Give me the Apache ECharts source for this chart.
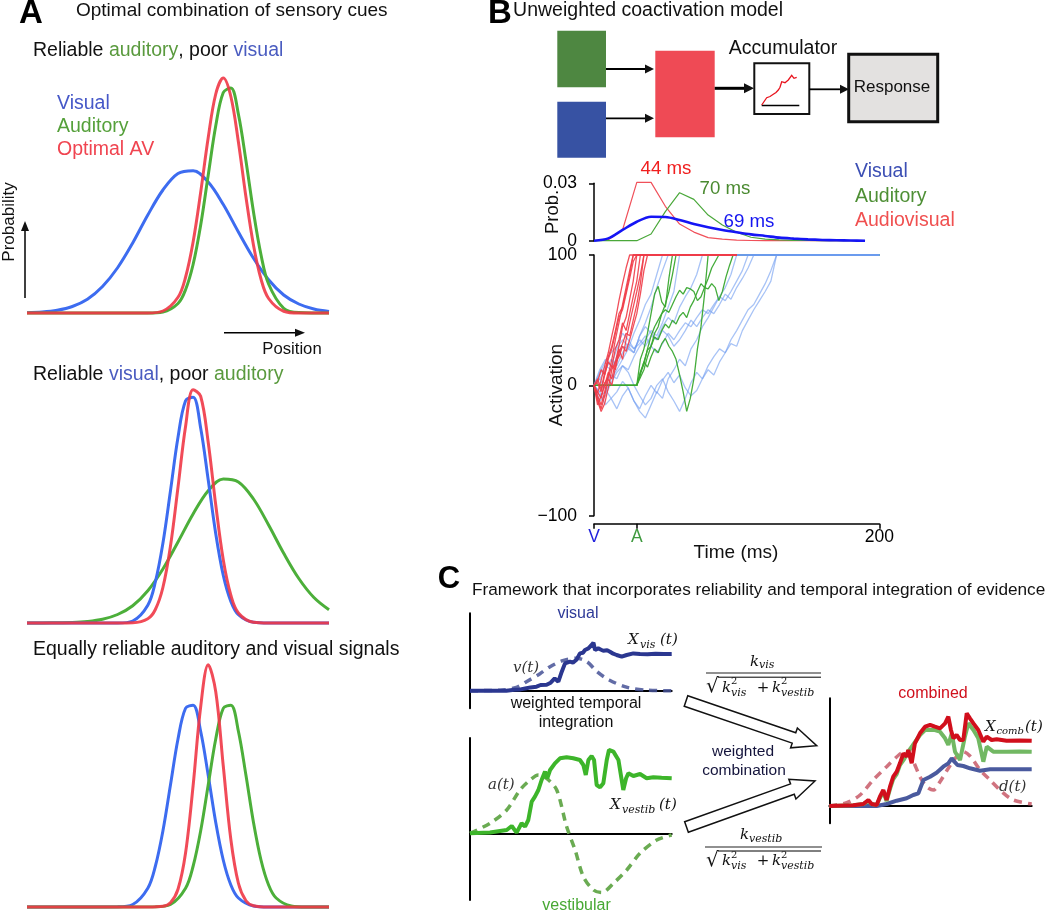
<!DOCTYPE html>
<html><head><meta charset="utf-8">
<script src="https://cdn.jsdelivr.net/npm/echarts@6/dist/echarts.min.js"></script>
<style>html,body{margin:0;padding:0;background:#fff}#c{width:1050px;height:912px}</style>
</head><body><div id="c"></div>
<script>
// ================= DATA =================
// ---- Panel A : probability vs position (0-100) ----
const posWide = [0,5,10,15,20,25,30,35,40,45,50,55,60,65,70,75,80,85,90,95,100];
const a1NarrowX = [0,40,45,50,52.5,55,57.5,60,62.5,65,67.5,70,72.5,75,77.5,80,85,90,100];
const a1Visual = [0.0015,0.004,0.011,0.026,0.055,0.106,0.181,0.280,0.392,0.492,0.558,0.569,0.524,0.434,0.324,0.219,0.133,0.072,0.036,0.016,0.006];
const a1Auditory = [0,0,0.004,0.038,0.093,0.194,0.351,0.551,0.749,0.882,0.900,0.795,0.609,0.404,0.232,0.116,0.019,0.002,0];
const a1Optimal = [0,0,0.008,0.063,0.143,0.284,0.482,0.701,0.876,0.940,0.866,0.684,0.464,0.271,0.135,0.058,0.007,0,0];

const a2NarrowX = [0,30,35,40,42.5,45,47.5,50,52.5,55,57.5,60,62.5,65,67.5,70,75,80,100];
const a2Visual = [0,0,0.008,0.071,0.164,0.319,0.528,0.743,0.889,0.903,0.780,0.573,0.357,0.190,0.086,0.033,0.003,0,0];
const a2Optimal = [0,0,0.001,0.017,0.054,0.142,0.307,0.543,0.786,0.933,0.907,0.723,0.472,0.252,0.111,0.040,0.003,0,0];
const a2Auditory = [0,0,0.001,0.002,0.006,0.015,0.034,0.069,0.129,0.216,0.324,0.436,0.529,0.576,0.564,0.496,0.392,0.279,0.178,0.102,0.053];

const a3VisualX = [0,30,35,40,42.5,45,47.5,50,52.5,55,57.5,60,62.5,65,67.5,70,75,80,100];
const a3Visual = [0,0.001,0.010,0.075,0.163,0.304,0.488,0.672,0.795,0.807,0.703,0.527,0.338,0.187,0.088,0.036,0.004,0,0];
const a3AuditoryX = [0,42.5,47.5,52.5,55,57.5,60,62.5,65,67.5,70,72.5,75,77.5,80,82.5,87.5,92.5,100];
const a3Auditory = [0,0.001,0.010,0.075,0.163,0.304,0.488,0.672,0.795,0.807,0.703,0.527,0.338,0.187,0.088,0.036,0.004,0,0];
const a3OptimalX = [0,40,45,47.5,50,52.5,55,57.5,60,62.5,65,67.5,70,72.5,75,80,100];
const a3Optimal = [0,0,0.003,0.017,0.071,0.216,0.485,0.800,0.969,0.861,0.563,0.270,0.095,0.025,0.005,0,0];

// ---- Panel B : RT distributions (prob vs time, ms) ----
const probTime = [0,10,20,30,40,50,60,70,80,90,100,110,120,130,140,150,160,170,180,190];
const probVisual = [0,0.0012,0.0056,0.0099,0.0125,0.0124,0.0108,0.0087,0.0070,0.0056,0.0044,0.0033,0.0025,0.0016,0.0011,0.0007,0.0004,0.0002,0.0001,0];
const probAuditory = [0,0,0,0,0.0035,0.0152,0.0251,0.0216,0.0134,0.0082,0.0044,0.0018,0.0008,0.0004,0.0002,0.0001,0,0,0,0];
const probAV = [0,0.0005,0.0056,0.0305,0.0305,0.0180,0.0087,0.0045,0.0016,0.0008,0.0003,0.0001,0,0,0,0,0,0,0,0];
const rtLabels = ['44 ms','70 ms','69 ms'];

// ---- Panel B : accumulator traces (activation), sampled every dt ms from onset ----
const threshold = 100;
const avOnset = 0, avStep = 2.5, avEnd = 100;
const actAV = [
  [0,-8,-15,-5,8,20,35,48,62,75,88,100],
  [0,-12,-20,-14,-2,12,18,30,45,52,66,80,100],
  [0,5,-3,10,22,30,42,55,60,72,85,100],
  [0,-5,-10,2,6,15,12,25,32,40,38,50,62,78,100],
  [0,3,12,8,20,28,40,52,58,70,82,95,100],
  [0,-15,-8,0,10,5,18,22,30,26,35,45,55,70,88,100],
  [0,-6,4,15,25,38,50,65,78,90,100],
  [0,-10,-18,-8,5,0,14,28,20,35,48,60,72,85,100],
  [0,2,-5,8,18,14,28,35,48,42,55,68,80,100]
];
const audOnset = 30, audStep = 2.5, audEnd = 200;
const actAuditory = [
  [0,20,28,40,55,70,76,64,60,82,100],
  [0,8,18,27,30,40,45,55,62,72,85,100],
  [0,10,18,14,22,28,25,32,36,30,26,20,8,-5,-20,-10,5,28,45,70,100],
  [0,6,12,22,30,37,35,42,47,44,50,47,53,56,52,60,65,72,78,75,82,90,95,100],
  [0,10,16,28,38,45,50,55,58,56,62,68,73,70,75,74,72,65,68,75,74,78,75,65,72,83,92,100]
];
const visOnset = 0, visStep = 4, visEnd = 200;
const actVisual = [
  [0,8,15,12,22,30,28,40,50,62,70,85,100],
  [0,-8,-5,5,12,20,28,25,38,48,60,75,88,100],
  [0,-12,-8,2,10,15,12,22,30,35,42,38,48,60,72,100],
  [0,5,12,20,15,25,32,28,35,30,38,35,45,52,48,60,68,75,85,100],
  [0,-5,-15,-10,-18,-8,-2,-12,-20,-25,-15,-5,-10,5,12,20,15,28,35,45,52,60,68,75,85,100],
  [0,10,18,25,30,40,35,28,32,38,30,25,32,40,35,42,48,45,52,58,55,62,68,65,72,80,88,100],
  [0,-5,2,8,5,15,10,0,-8,-15,-10,0,5,-5,-12,-20,-10,2,10,5,15,22,28,25,35,42,50,58,62,70,78,88,100],
  [0,5,-3,-10,-5,3,-2,-12,-18,-8,0,-6,4,10,2,8,-2,-8,-4,5,12,8,18,25,32,30,42,50,58,65,72,80,100],
  [0,12,20,15,28,35,30,25,38,45,40,35,42,38,30,35,42,50,45,52,58,55,62,70,66,75,82,90,100]
];
const timeTickValues = [0,30,200];
const timeTickLabels = ['V','A','200'];

// ---- Panel C : evidence traces (time 0-100, arbitrary units) ----
const cTopTime = [0,10,18,22,25,28,30,33,35,38,40,42,43.8,45.5,47.1,49.6,51,52.9,54.5,56,57,58.7,60.3,61.2,62,63.6,65,66.1,68,69.4,71,72.7,75.2,77.7,81,84.3,88,92,96,100];
const cTopVis = [0,0,0,1,1.3,2.5,3.3,4,5.7,6,8,12.3,9,19,27.3,29,28,31.3,37.3,38,40.7,42.3,45.7,48,40.7,42.3,41,40,40.5,39,37,35.7,34,35.7,37.3,36.7,36.5,37,36.6,36.7];
const vTime = [0,15,23,28,34.7,39.7,46,53,58,63,69,78,88,100];
const vVal = [0,0.5,3.3,9,17,24,30,32.5,29,19,10.7,3.3,0.5,0];
const cBotTime = [0,9.9,18.2,20.7,23.1,25.6,27.3,28.9,30.6,32.2,33.9,35.5,37.2,38.3,39.7,42.1,44.6,47.9,51.2,54.5,56.2,57.4,58.7,60.3,61.5,62.8,64.5,66.1,67.8,68.9,71.1,73.6,76,77.4,78.5,81,84.3,87.6,90.9,95,100];
const cBotVestib = [0,0.7,3.3,7.3,0.7,10,6.7,13.3,31.7,36.7,43.3,53.3,61.7,55,63.3,70,75,76,75,73.3,68.3,58.3,73.3,77.3,73.3,48.3,46,50,73.3,83.3,81.7,73.3,43.3,55,60,57.3,59.3,55,56,55.5,55];
const aTime = [0,9.9,18.2,24.8,29.8,33.9,38,43,47.9,52.1,56.2,61.2,65.3,71.1,77.7,84.3,92.6,100];
const aVal = [0,10,23.3,43.3,53.3,58.3,55,43.3,6.7,-16.7,-43.3,-56.7,-59.3,-50,-36.7,-20,-6.7,-1.7];
const combTime = [0,11.9,16.8,19.3,20.9,23.4,25,26.7,28.3,30,31.6,33.3,34.9,36.6,38.2,39,40.7,42.3,44.8,47.3,49.8,52.2,54.7,57.2,58.8,60.1,61.3,62.9,64.6,66.2,67.9,69.5,71.2,73.6,76.1,77.8,80.2,82.7,87.6,94.2,100];
const combRed = [0,0.7,2,6,2,1,9.3,16,6,19.3,29.3,34.3,42.7,52.7,49.3,56,42.7,62.7,72.7,79.3,81,79.3,77.7,82.7,89.3,76,67.7,71,66,66,92.7,87.7,82.7,76,64.3,69.3,66,66.7,65.3,65.6,65.3];
const combGreenTime = [0,11.9,16.8,19.3,20.9,23.4,25,26.7,28.3,30,31.6,33.3,34.9,37,39,41,44.8,47.3,52.2,54.7,57.2,58.8,60.5,62.1,64.6,67,68.7,71.2,73.6,76.1,77.8,81,87.6,94,100];
const combGreen = [0,0.7,2,5,2,1,8,14,5,17,27,32,41,47,54.3,60,71,76,76,74.3,67.7,61,72.7,54.3,46,69.3,82.7,76,67.7,44.3,59.3,54.3,54.3,54.6,54.3];
const combBlueTime = [0,23.4,28.3,33.3,38.2,41.5,44,46.5,49.8,53,56.3,58.8,60.5,61.8,63.3,66.2,69.5,74.5,79.4,84.3,100];
const combBlue = [0,0,2,5.3,7.7,11,12.7,26,29.3,33.3,39.3,42.7,47.7,44.3,41,40,37.7,35.3,36.7,36.7,36.7];
const dTime = [0,8.6,15.2,21.7,28.3,34.9,37.4,40.7,44.8,48.1,51.4,54.7,58.8,62.9,66.2,69.5,74.5,79.4,85.2,90.9,100];
const dVal = [0,3.3,11,26,39.3,52,54.3,47.7,29.3,19.3,16,24.3,37.7,49.3,54.3,50,36,26,14.3,6,2];

// ================= STYLE =================
const SANS = 'Liberation Sans, Arial, Helvetica, sans-serif';
const SERIF = 'DejaVu Serif, serif';
const BLUE = '#3d6cf0', GREEN = '#4caf3a', RED = 'rgba(240,55,70,0.9)';

function pairs(xs, ys){ return xs.map((x,i)=>[x, ys[i]]); }
function trace(onset, dt, vals, end, pre){
  const d = pre ? [[0,0]] : [];
  vals.forEach((v,i)=>d.push([onset+i*dt, v]));
  if (end != null) d.push([end, vals[vals.length-1]]);
  return d;
}
function line(gi, data, color, width, extra){
  return Object.assign({type:'line', xAxisIndex:gi, yAxisIndex:gi, data, symbol:'none', silent:true,
    animation:false, clip:false, lineStyle:{color, width}}, extra||{});
}

const grids = [
  {left:27, top:63, width:302, height:250},
  {left:27, top:373, width:302, height:250},
  {left:27, top:657, width:302, height:250},
  {left:594, top:183.3, width:285.3, height:57.4},
  {left:594, top:255, width:285.3, height:260.7},
  {left:470, top:613.3, width:201.7, height:95},
  {left:470, top:738, width:201.7, height:162},
  {left:829.3, top:698.3, width:202.4, height:125}
];
const hidden = {show:false};
const cAxisLine = {show:true, onZero:true, lineStyle:{color:'#000', width:2}};
const xAxes = [
  {type:'value', gridIndex:0, min:0, max:100, show:false},
  {type:'value', gridIndex:1, min:0, max:100, show:false},
  {type:'value', gridIndex:2, min:0, max:100, show:false},
  {type:'value', gridIndex:3, min:0, max:200, show:false},
  {type:'value', gridIndex:4, min:0, max:200, offset:8,
    axisLine:{show:true, onZero:false, lineStyle:{color:'#000', width:1.5}},
    axisTick:{show:true, customValues:timeTickValues, length:5, lineStyle:{color:'#000', width:1.5}},
    axisLabel:{customValues:timeTickValues, margin:4, fontFamily:SANS,
      formatter:v=>{const i=timeTickValues.indexOf(v); return ['{v|','{a|','{k|'][i]+timeTickLabels[i]+'}';},
      rich:{v:{color:'#2222dd',fontSize:17.5,fontFamily:SANS},a:{color:'#3f9a3f',fontSize:17.5,fontFamily:SANS},k:{color:'#000',fontSize:17.5,fontFamily:SANS}}},
    splitLine:hidden},
  {type:'value', gridIndex:5, min:0, max:100, axisLine:cAxisLine, axisTick:hidden, axisLabel:hidden, splitLine:hidden},
  {type:'value', gridIndex:6, min:0, max:100, axisLine:cAxisLine, axisTick:hidden, axisLabel:hidden, splitLine:hidden},
  {type:'value', gridIndex:7, min:0, max:100, axisLine:cAxisLine, axisTick:hidden, axisLabel:hidden, splitLine:hidden}
];
const yAxes = [
  {type:'value', gridIndex:0, min:0, max:1, show:false},
  {type:'value', gridIndex:1, min:0, max:1, show:false},
  {type:'value', gridIndex:2, min:0, max:1, show:false},
  {type:'value', gridIndex:3, min:0, max:0.03, interval:0.03, offset:15,
    axisLine:{show:true, lineStyle:{color:'#000', width:1.5}},
    axisTick:{show:true, length:5, lineStyle:{color:'#000', width:1.5}},
    axisLabel:{fontSize:17.5, color:'#000', fontFamily:SANS, margin:2, formatter:v=>v===0?'0':'0.03'}, splitLine:hidden},
  {type:'value', gridIndex:4, min:-100, max:100, interval:100, offset:15,
    axisLine:{show:true, lineStyle:{color:'#000', width:1.5}},
    axisTick:{show:true, length:5, lineStyle:{color:'#000', width:1.5}},
    axisLabel:{fontSize:17.5, color:'#000', fontFamily:SANS, margin:2, formatter:v=>v===0?'0':(v>0?'100':'\u2212100')}, splitLine:hidden},
  {type:'value', gridIndex:5, min:-17.6, max:77.4, axisLine:cAxisLine, axisTick:hidden, axisLabel:hidden, splitLine:hidden},
  {type:'value', gridIndex:6, min:-66.7, max:95.3, axisLine:cAxisLine, axisTick:hidden, axisLabel:hidden, splitLine:hidden},
  {type:'value', gridIndex:7, min:-17.3, max:107.7, axisLine:cAxisLine, axisTick:hidden, axisLabel:hidden, splitLine:hidden}
];

const series = [];
const sm = {smooth:0.35};
// Panel A
series.push(line(0, pairs(posWide, a1Visual), BLUE, 3, sm));
series.push(line(0, pairs(a1NarrowX, a1Auditory), GREEN, 3, sm));
series.push(line(0, pairs(a1NarrowX, a1Optimal), RED, 3, sm));
series.push(line(1, pairs(posWide, a2Auditory), GREEN, 3, sm));
series.push(line(1, pairs(a2NarrowX, a2Visual), BLUE, 3, sm));
series.push(line(1, pairs(a2NarrowX, a2Optimal), RED, 3, sm));
series.push(line(2, pairs(a3VisualX, a3Visual), BLUE, 3, sm));
series.push(line(2, pairs(a3AuditoryX, a3Auditory), GREEN, 3, sm));
series.push(line(2, pairs(a3OptimalX, a3Optimal), RED, 3, sm));
// Panel B prob
series.push(line(3, pairs(probTime, probAV), '#f0505a', 1.2));
series.push(line(3, pairs(probTime, probAuditory), '#4aa83a', 1.2));
series.push(line(3, pairs(probTime, probVisual), '#1515f5', 2.6, {smooth:0.3}));
// Panel B traces: auditory plateaus under visual traces, rising parts above
const AUD_C = 'rgba(58,168,48,0.95)';
actAuditory.forEach(v=>{
  const tReach = audOnset + (v.length-1)*audStep;
  series.push(line(4, [[tReach, threshold],[audEnd, threshold]], AUD_C, 1.3));
});
actVisual.forEach(v=>series.push(line(4, trace(visOnset, visStep, v, visEnd), 'rgba(110,155,240,0.6)', 1.3)));
actAuditory.forEach(v=>series.push(line(4, trace(audOnset, audStep, v, null, true), AUD_C, 1.3)));
actAV.forEach(v=>series.push(line(4, trace(avOnset, avStep, v, avEnd), 'rgba(240,60,72,0.9)', 1.3)));
// Panel C
const dash = [8,6];
series.push(line(5, pairs(vTime, vVal), '', 0, {smooth:0.3, lineStyle:{color:'rgba(70,82,150,0.85)', width:3.5, type:dash}}));
series.push(line(5, pairs(cTopTime, cTopVis), '#2b3790', 4));
series.push(line(6, pairs(aTime, aVal), '', 0, {smooth:0.3, lineStyle:{color:'#6aab52', width:3.5, type:dash}}));
series.push(line(6, pairs(cBotTime, cBotVestib), '#3db52a', 4));
series.push(line(7, pairs(dTime, dVal), '', 0, {smooth:0.3, lineStyle:{color:'rgba(200,90,105,0.85)', width:3.5, type:dash}}));
series.push(line(7, pairs(combBlueTime, combBlue), '#4a5a9e', 4));
series.push(line(7, pairs(combGreenTime, combGreen), '#72b863', 4));
series.push(line(7, pairs(combTime, combRed), '#d10f1c', 4));

// ================= GRAPHICS (labels, diagram) =================
const G = [];
function txt(x, y, text, o){
  o = o||{};
  G.push({type:'text', x, y, rotation:o.rot||0, silent:true, z:50, style:{text, fill:o.color||'#111',
    fontSize:o.size||16, fontFamily:o.family||SANS, fontWeight:o.weight||'normal', fontStyle:o.style||'normal',
    align:o.align||'left', verticalAlign:'middle', rich:o.rich}});
}
function seg(x1,y1,x2,y2,w,c){ G.push({type:'line', silent:true, z:40, shape:{x1,y1,x2,y2}, style:{stroke:c||'#000', lineWidth:w||1.5}}); }
function poly(points, fill, stroke, w){ G.push({type:'polygon', silent:true, z:41, shape:{points}, style:{fill:fill, stroke:stroke||null, lineWidth:w||0}}); }
function arrowR(x1,x2,y,w,hl,hw){ seg(x1,y,x2-hl+1,y,w); poly([[x2,y],[x2-hl,y-hw],[x2-hl,y+hw]],'#111'); }
function rect(x,y,w,h,fill,stroke,lw){ G.push({type:'rect', silent:true, z:30, shape:{x,y,width:w,height:h}, style:{fill, stroke:stroke||null, lineWidth:lw||0}}); }
function hollowArrow(x1,y1,x2,y2,sw,hw,hl){
  const dx=x2-x1, dy=y2-y1, L=Math.hypot(dx,dy), ux=dx/L, uy=dy/L, nx=-uy, ny=ux;
  const bx=x2-ux*hl, by=y2-uy*hl;
  poly([[x1+nx*sw,y1+ny*sw],[bx+nx*sw,by+ny*sw],[bx+nx*hw,by+ny*hw],[x2,y2],[bx-nx*hw,by-ny*hw],[bx-nx*sw,by-ny*sw],[x1-nx*sw,y1-ny*sw]],'#fff','#111',1.5);
}
const T = 19.5; // main figure text size

// Panel A
txt(31, 14, 'A', {size:33, weight:'bold', align:'center', color:'#000'});
txt(76, 11, 'Optimal combination of sensory cues', {size:19});
const rA = (c)=>({fill:c, fontSize:T, fontFamily:SANS});
txt(33, 51, '{k|Reliable }{g|auditory}{k|, poor }{b|visual}', {rich:{k:rA('#111'), g:rA('#5a9a3e'), b:rA('#4a5cc0')}});
txt(57, 104, 'Visual', {size:T, color:'#4658c8'});
txt(57, 127, 'Auditory', {size:T, color:'#55a03a'});
txt(57, 150, 'Optimal AV', {size:T, color:'#f04450'});
txt(9.5, 222, 'Probability', {size:17, rot:Math.PI/2, align:'center'});
seg(25, 298, 25, 230, 1.5); poly([[25,221],[21,231],[29,231]], '#111');
seg(224, 332.7, 296, 332.7, 1.5); poly([[305,332.7],[295,328.7],[295,336.7]], '#111');
txt(292, 349.5, 'Position', {size:16.7, align:'center'});
txt(33, 375, '{k|Reliable }{b|visual}{k|, poor }{g|auditory}', {rich:{k:rA('#111'), g:rA('#5a9a3e'), b:rA('#4a5cc0')}});
txt(33, 650, 'Equally reliable auditory and visual signals', {size:T});

// Panel B
txt(500, 14, 'B', {size:33, weight:'bold', align:'center', color:'#000'});
txt(783, 11, 'Unweighted coactivation model', {size:T, align:'right'});
rect(557.3, 30.7, 48.7, 56.6, '#4e8741');
rect(557.3, 101.7, 48.7, 56, '#3752a3');
rect(655.3, 50.7, 59.4, 86.6, '#ef4a55');
arrowR(606, 654, 69, 1.8, 9, 4.5);
arrowR(606, 654, 118.3, 1.8, 9, 4.5);
arrowR(714.7, 754, 88.3, 3, 10, 5);
rect(754.3, 63.3, 55, 50.7, '#fff', '#111', 2);
G.push({type:'polyline', silent:true, z:42, shape:{points:[[761.7,105],[766.7,97.7],[770,96.5],[773.3,94.3],[776,92.5],[778.3,90],[780,87.3],[781.7,81.7],[785,82.7],[788.3,80],[791.7,75.3],[794,78.3],[796.7,77.3]]}, style:{stroke:'#e8141e', lineWidth:1.3, fill:null}});
seg(761.7, 105.5, 799.3, 105.5, 1.5);
txt(783, 49, 'Accumulator', {size:T, align:'center'});
arrowR(809.3, 849, 89.3, 1.8, 9, 4.5);
rect(848.7, 54.3, 89, 67.4, '#e3e1e0', '#111', 3);
txt(892, 87.5, 'Response', {size:17, align:'center'});
txt(553, 212, 'Prob.', {size:18.5, rot:Math.PI/2, align:'center'});
txt(666, 169, rtLabels[0], {size:18.7, color:'#f01e1e', align:'center'});
txt(725, 189, rtLabels[1], {size:18.7, color:'#4a8a30', align:'center'});
txt(749, 221.5, rtLabels[2], {size:18.7, color:'#1515f0', align:'center'});
txt(855, 172, 'Visual', {size:T, color:'#3c4fb4'});
txt(855, 196.5, 'Auditory', {size:T, color:'#4e8f35'});
txt(855, 221, 'Audiovisual', {size:T, color:'#f05050'});
txt(557, 385, 'Activation', {size:19, rot:Math.PI/2, align:'center'});
txt(736, 553, 'Time (ms)', {size:19, align:'center'});

// Panel C
txt(449, 579, 'C', {size:31, weight:'bold', align:'center', color:'#000'});
txt(472, 590, 'Framework that incorporates reliability and temporal integration of evidence', {size:17.2});
txt(578, 614, 'visual', {size:16, color:'#2e3a98', align:'center'});
txt(628, 640, 'X', {family:SERIF, style:'italic', size:15});
txt(640, 645, 'vis', {family:SERIF, style:'italic', size:11});
txt(660, 640, '(t)', {family:SERIF, style:'italic', size:15});
txt(513, 668, 'v(t)', {family:SERIF, style:'italic', size:15, color:'#333'});
txt(576, 704, 'weighted temporal', {size:16, align:'center'});
txt(576, 723, 'integration', {size:16, align:'center'});
txt(488, 785, 'a(t)', {family:SERIF, style:'italic', size:15, color:'#333'});
txt(610, 805, 'X', {family:SERIF, style:'italic', size:15});
txt(622, 810, 'vestib', {family:SERIF, style:'italic', size:11});
txt(659, 805, '(t)', {family:SERIF, style:'italic', size:15});
txt(576.5, 906, 'vestibular', {size:16, color:'#47a833', align:'center'});
txt(743, 752, 'weighted', {size:15.5, align:'center', color:'#14143c'});
txt(744, 771, 'combination', {size:15.5, align:'center', color:'#14143c'});
txt(933, 694, 'combined', {size:16, color:'#d0101c', align:'center'});
txt(985, 726.7, 'X', {family:SERIF, style:'italic', size:15});
txt(996.5, 731, 'comb', {family:SERIF, style:'italic', size:10});
txt(1025, 726.7, '(t)', {family:SERIF, style:'italic', size:15});
txt(999, 787, 'd(t)', {family:SERIF, style:'italic', size:15, color:'#333'});
hollowArrow(686, 701, 816.7, 745.7, 5.5, 10.5, 24);
hollowArrow(686.5, 827, 815, 781, 5.5, 10.5, 24);
// formulas
function denom(y){
  txt(706, y, '\u221a', {family:SERIF, size:20});
  seg(718, y-9.5, 821, y-9.5, 1);
  txt(722, y+1, 'k', {family:SERIF, style:'italic', size:15});
  txt(731, y-5, '2', {family:SERIF, size:10});
  txt(731, y+6, 'vis', {family:SERIF, style:'italic', size:11});
  txt(763, y+1, '+', {family:SERIF, size:15, align:'center'});
  txt(772, y+1, 'k', {family:SERIF, style:'italic', size:15});
  txt(781, y-5, '2', {family:SERIF, size:10});
  txt(781, y+6, 'vestib', {family:SERIF, style:'italic', size:11});
}
txt(750, 661.7, 'k', {family:SERIF, style:'italic', size:15});
txt(759, 665.5, 'vis', {family:SERIF, style:'italic', size:11});
seg(706, 673, 821, 673, 1.2, '#222');
denom(686.7);
txt(740, 835, 'k', {family:SERIF, style:'italic', size:15});
txt(749, 839.5, 'vestib', {family:SERIF, style:'italic', size:11});
seg(705, 847, 822, 847, 1.2, '#222');
denom(860.5);

const chart = echarts.init(document.getElementById('c'), null, {renderer:'canvas', width:1050, height:912});
chart.setOption({
  animation:false,
  backgroundColor:'#fff',
  grid:grids, xAxis:xAxes, yAxis:yAxes, series, graphic:G
});
</script></body></html>
